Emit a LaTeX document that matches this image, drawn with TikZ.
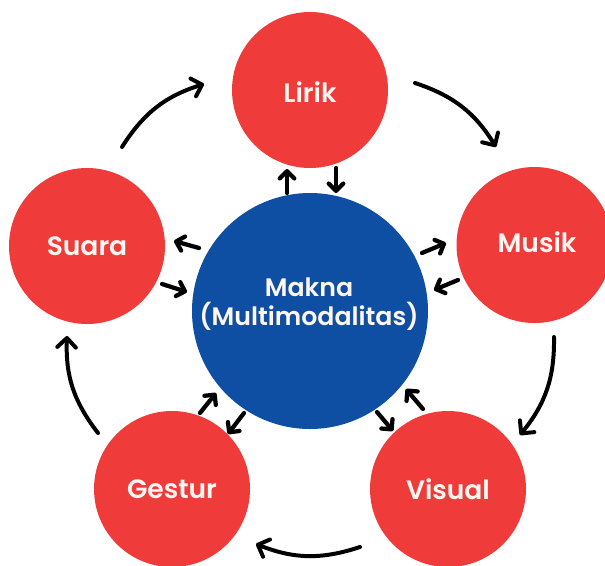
\documentclass[tikz,border=0pt]{standalone}
\usepackage{fontspec}
\setmainfont{Poppins}[BoldFont={* SemiBold}]
\usetikzlibrary{arrows.meta}
\definecolor{redc}{HTML}{F03B3B}
\definecolor{bluec}{HTML}{0F4FA3}
\definecolor{textc}{HTML}{FFF6F2}
\tikzset{
  px/.style={x=0.02646cm,y=-0.02646cm},
  rednode/.style={circle,fill=redc,draw=none,minimum size=156*0.02646cm,inner sep=0pt},
  bluenode/.style={circle,fill=bluec,draw=none,minimum size=236*0.02646cm,inner sep=0pt},
  redtext/.style={inner sep=0pt,text=textc,font=\fontsize{20}{24}\selectfont\bfseries},
  bluetext/.style={inner sep=0pt,text=textc,align=center,font=\fontsize{19}{21.8}\selectfont\bfseries},
  arr/.style={draw=black,line width=3pt,line cap=round,-{Straight Barb[length=7pt,width=14pt,line width=3pt,round]}},
  sarr/.style={draw=black,line width=3.2pt,line cap=round,-{Straight Barb[length=5.5pt,width=11pt,line width=3.2pt,round]}},
}
\begin{document}
\begin{tikzpicture}[px]
\useasboundingbox (0,0) rectangle (605,565);
\node[rednode] (lirik) at (310,90) {};
\node[rednode] (musik) at (534.5,245) {};
\node[rednode] (visual) at (448,489) {};
\node[rednode] (gestur) at (172,489) {};
\node[rednode] (suara) at (87,246) {};
\node[bluenode] (makna) at (310,311) {};
\node[redtext] (tlirik) at (310,92) {Lirik};
\node[redtext] (tmusik) at (537,242) {Musik};
\node[redtext] (tvisual) at (448,489) {Visual};
\node[redtext] (tgestur) at (172,489) {Gestur};
\node[redtext] (tsuara) at (87,246) {Suara};
\node[bluetext] (tmakna) at (309,304) {Makna\\(Multimodalitas)};
\coordinate (a1s) at (122,147); \coordinate (a1e) at (204,84);
\coordinate (a2s) at (415,83); \coordinate (a2e) at (496,147);
\coordinate (a3s) at (554,337); \coordinate (a3e) at (520,435);
\coordinate (a4s) at (360,547); \coordinate (a4e) at (256,544);
\coordinate (a5s) at (98,433); \coordinate (a5e) at (67,336);
\draw[arr] (a1s) to[bend left=20] (a1e);
\draw[arr] (a2s) to[bend left=20] (a2e);
\draw[arr] (a3s) to[bend left=20] (a3e);
\draw[arr] (a4s) to[bend left=20] (a4e);
\draw[arr] (a5s) to[bend left=20] (a5e);
\coordinate (b1) at (287,193); \coordinate (b2) at (287,169);
\coordinate (b3) at (336,168); \coordinate (b4) at (336,193);
\coordinate (c1) at (422,253); \coordinate (c2) at (446,243);
\coordinate (c3) at (458,280); \coordinate (c4) at (434,290);
\coordinate (d1) at (423,409); \coordinate (d2) at (406,389);
\coordinate (d3) at (377,412); \coordinate (d4) at (393,431);
\coordinate (e1) at (200,413); \coordinate (e2) at (216,393);
\coordinate (e3) at (244,413); \coordinate (e4) at (228,434);
\coordinate (f1) at (199,248); \coordinate (f2) at (174,241);
\coordinate (f3) at (162,284); \coordinate (f4) at (187,292);
\foreach \s/\e in {b1/b2,b3/b4,c1/c2,c3/c4,d1/d2,d3/d4,e1/e2,e3/e4,f1/f2,f3/f4}{
  \draw[sarr] (\s) -- (\e);
}
\end{tikzpicture}
\end{document}
